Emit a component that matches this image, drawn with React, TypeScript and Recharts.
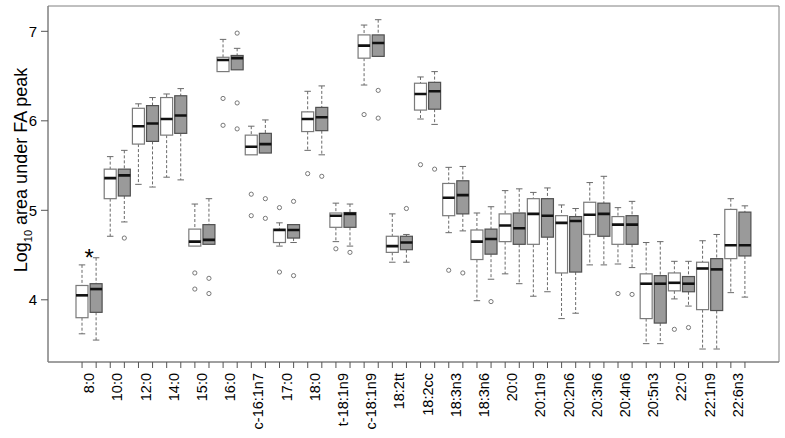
import React from 'react';
import { ComposedChart, Bar, XAxis, YAxis, CartesianGrid } from 'recharts';

// ---- data ----
const categories = ['8:0','10:0','12:0','14:0','15:0','16:0','c-16:1n7','17:0','18:0','t-18:1n9','c-18:1n9','18:2tt','18:2cc','18:3n3','18:3n6','20:0','20:1n9','20:2n6','20:3n6','20:4n6','20:5n3','22:0','22:1n9','22:6n3'];

const whiteLo  = [3.62,4.71,5.29,5.37,4.60,6.55,5.62,4.60,5.67,4.65,6.40,4.42,6.02,4.75,3.99,4.29,4.04,3.79,4.39,4.40,3.51,4.01,3.45,4.08];
const whiteQ1  = [3.80,5.13,5.74,5.84,4.60,6.55,5.62,4.64,5.88,4.81,6.70,4.53,6.12,4.94,4.45,4.65,4.62,4.30,4.73,4.62,3.79,4.10,3.89,4.46];
const whiteMed = [4.05,5.36,5.94,6.02,4.65,6.68,5.71,4.78,6.02,4.94,6.84,4.60,6.30,5.14,4.65,4.83,4.96,4.86,4.95,4.84,4.18,4.19,4.35,4.61];
const whiteQ3  = [4.16,5.46,6.14,6.26,4.79,6.71,5.84,4.79,6.10,4.97,6.96,4.71,6.42,5.30,4.78,4.96,5.13,4.94,5.09,4.93,4.29,4.30,4.42,5.01];
const whiteHi  = [4.39,5.60,6.19,6.30,5.07,6.91,5.94,4.86,6.33,5.08,7.07,4.96,6.49,5.48,4.97,5.22,5.20,5.06,5.31,5.03,4.64,4.43,4.66,5.13];
const whiteOut = [[],[],[],[],[4.30,4.12],[6.25,5.95],[5.18,4.94],[5.03,4.31],[5.41],[4.57],[6.07],[],[5.51],[4.33],[],[],[],[],[],[4.07],[],[3.67],[],[]];

const grayLo  = [3.55,4.87,5.26,5.34,4.62,6.57,5.64,4.64,5.62,4.60,6.72,4.42,5.96,4.77,4.23,4.18,4.09,3.85,4.39,4.36,3.51,3.93,3.45,4.03];
const grayQ1  = [3.86,5.16,5.77,5.86,4.62,6.57,5.64,4.69,5.89,4.81,6.72,4.56,6.13,4.96,4.51,4.62,4.70,4.31,4.71,4.62,3.74,4.09,3.88,4.49];
const grayMed = [4.12,5.39,5.97,6.06,4.67,6.70,5.74,4.78,6.04,4.96,6.87,4.64,6.33,5.17,4.68,4.80,4.94,4.88,4.96,4.84,4.18,4.18,4.34,4.61];
const grayQ3  = [4.18,5.46,6.17,6.28,4.84,6.73,5.86,4.84,6.15,4.975,6.96,4.71,6.43,5.33,4.79,4.97,5.13,4.93,5.08,4.94,4.27,4.26,4.46,4.98];
const grayHi  = [4.47,5.67,6.26,6.36,5.13,6.81,6.01,4.84,6.39,5.07,7.13,4.73,6.55,5.49,5.04,5.24,5.25,5.02,5.38,5.10,4.65,4.43,4.73,5.05];
const grayOut = [[],[4.69],[],[],[4.24,4.07],[6.98,6.20,5.91],[5.13,4.91],[5.10,4.27],[5.38],[4.53],[6.34,6.03],[5.02],[5.46],[4.30],[3.98],[],[],[],[],[4.06],[],[3.69],[],[]];

// significance mark: category index and level
const starCategory = 0;
const starValue = 4.53;

const yTicks = [4, 5, 6, 7];
const yDomain = [3.305, 7.283];

// ---- build rows, one per box ----
type Row = { id: string; cat: string; idx: number; group: 'w' | 'g'; lo: number; q1: number; med: number; q3: number; hi: number; out: number[]; star?: number };
const rows: Row[] = [];
categories.forEach((c, i) => {
  rows.push({ id: 'w' + i, cat: c, idx: rows.length, group: 'w', lo: whiteLo[i], q1: whiteQ1[i], med: whiteMed[i], q3: whiteQ3[i], hi: whiteHi[i], out: whiteOut[i] });
  rows.push({ id: 'g' + i, cat: c, idx: rows.length, group: 'g', lo: grayLo[i], q1: grayQ1[i], med: grayMed[i], q3: grayQ3[i], hi: grayHi[i], out: grayOut[i], star: i === starCategory ? starValue : undefined });
});

// ---- layout ----
const W = 785, H = 438;
const M = { top: 6, right: 6, left: 0, bottom: 0 };
const YW = 48, XH = 76, PAD = 27;
const BAND = (W - M.left - M.right - YW - 2 * PAD) / rows.length;
const FONT = '"Liberation Sans", Arial, Helvetica, sans-serif';

const BoxShape = (props: any) => {
  const { x, y, width, height, payload } = props;
  if (!payload) return null;
  const { lo, q1, med, q3, hi, out, group, star } = payload as Row;
  const top = Math.min(y, y + height);
  const bot = Math.max(y, y + height);
  const py = (v: number) => bot - ((v - lo) / (hi - lo)) * (bot - top);
  const cx = x + width / 2;
  const cap = width * 0.27;
  const fill = group === 'w' ? '#ffffff' : '#9a9a9a';
  const stroke = group === 'w' ? '#7a7a7a' : '#505050';
  const wh = '#6a6a6a';
  return (
    <g>
      {hi > q3 && <line x1={cx} x2={cx} y1={py(hi)} y2={py(q3)} stroke={wh} strokeWidth={1} strokeDasharray="3 2" />}
      {hi > q3 && <line x1={cx - cap} x2={cx + cap} y1={py(hi)} y2={py(hi)} stroke={wh} strokeWidth={1} />}
      {lo < q1 && <line x1={cx} x2={cx} y1={py(q1)} y2={py(lo)} stroke={wh} strokeWidth={1} strokeDasharray="3 2" />}
      {lo < q1 && <line x1={cx - cap} x2={cx + cap} y1={py(lo)} y2={py(lo)} stroke={wh} strokeWidth={1} />}
      <rect x={x} y={py(q3)} width={width} height={py(q1) - py(q3)} fill={fill} stroke={stroke} strokeWidth={1.2} />
      <line x1={x} x2={x + width} y1={py(med)} y2={py(med)} stroke="#111" strokeWidth={2.6} />
      {out.map((v: number, k: number) => (
        <circle key={k} cx={cx} cy={py(v)} r={2.1} fill="none" stroke="#6a6a6a" strokeWidth={0.9} />
      ))}
      {star !== undefined && (
        <text x={cx - BAND / 2} y={py(star)} dy="0.55em" textAnchor="middle" fontSize={24} fontFamily={FONT} fill="#000">*</text>
      )}
    </g>
  );
};

const XTick = (props: any) => {
  const { x, y, payload } = props;
  const i = payload?.index ?? 0;
  if (i % 2 !== 0) return <g />;
  const lx = x + BAND / 2;
  const ly = y - 1;
  return (
    <text x={lx} y={ly} transform={`rotate(-90 ${lx} ${ly})`} textAnchor="end" dominantBaseline="central" fontSize={14.5} fontFamily={FONT} fill="#000">
      {rows[i].cat}
    </text>
  );
};

const YTick = (props: any) => {
  const { x, y, payload } = props;
  return (
    <text x={x} y={y} textAnchor="end" dominantBaseline="central" fontSize={15} fontFamily={FONT} fill="#000">{payload.value}</text>
  );
};

const YLabel = (props: any) => {
  const vb = props.viewBox || { x: 0, y: 0, width: 48, height: 356 };
  const lx = vb.x + 27;
  const ly = vb.y + vb.height / 2 - 14;
  return (
    <text x={lx} y={ly} transform={`rotate(-90 ${lx} ${ly})`} textAnchor="middle" fontSize={18} fontFamily={FONT} fill="#000">
      Log<tspan fontSize={11} dy={5}>10</tspan><tspan dy={-5}> area under FA peak</tspan>
    </text>
  );
};

const frameH = (p: any) => [p.offset.top, p.offset.top + p.offset.height];
const frameV = (p: any) => [p.offset.left, p.offset.left + p.offset.width];

export default function App() {
  return (
    <div style={{ position: 'absolute', left: 0, top: 0, width: W, height: H, background: '#fff' }}>
      <ComposedChart width={W} height={H} data={rows} margin={M}>
        <CartesianGrid
          xAxisId="x"
          yAxisId="y"
          stroke="#808080"
          strokeWidth={1}
          horizontalCoordinatesGenerator={frameH}
          verticalCoordinatesGenerator={frameV}
        />
        <XAxis
          xAxisId="x"
          dataKey="id"
          type="category"
          height={XH}
          padding={{ left: PAD, right: PAD }}
          interval={0}
          tickSize={6}
          tickMargin={6}
          tickLine={{ stroke: '#555' }}
          axisLine={{ stroke: '#808080' }}
          tick={<XTick />}
        />
        <YAxis
          yAxisId="y"
          type="number"
          domain={yDomain}
          allowDataOverflow
          ticks={yTicks}
          width={YW}
          tickSize={7}
          tickMargin={4}
          tickLine={{ stroke: '#555' }}
          axisLine={{ stroke: '#808080' }}
          tick={<YTick />}
          label={{ content: (p: any) => <YLabel {...p} /> }}
        />
        <Bar
          xAxisId="x"
          yAxisId="y"
          dataKey={(d: Row) => [d.lo, d.hi]}
          barSize={12}
          shape={(p: any) => <BoxShape {...p} />}
          isAnimationActive={false}
        />
      </ComposedChart>
    </div>
  );
}
